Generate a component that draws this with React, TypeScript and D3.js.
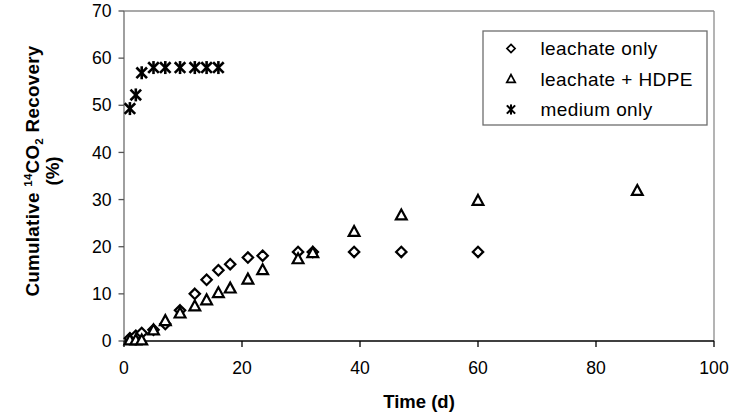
import React from "react";
import * as d3 from "d3";

// Sampling days and cumulative recovery (%) per treatment
const leachateDays = [1, 2, 3, 5, 7, 9.5, 12, 14, 16, 18, 21, 23.5, 29.5, 32, 39, 47, 60];
const leachateValues = [0.6, 1.1, 1.7, 2.4, 3.6, 6.5, 10.0, 13.0, 15.0, 16.3, 17.7, 18.1, 18.9, 18.9, 18.9, 18.9, 18.9];

const hdpeDays = [1, 2, 3, 5, 7, 9.5, 12, 14, 16, 18, 21, 23.5, 29.5, 32, 39, 47, 60, 87];
const hdpeValues = [0.2, 0.2, 0.2, 2.3, 4.3, 5.9, 7.4, 8.7, 10.2, 11.2, 13.1, 15.1, 17.4, 18.7, 23.2, 26.7, 29.8, 31.9];

const mediumDays = [1, 2, 3, 5, 7, 9.5, 12, 14, 16];
const mediumValues = [49.3, 52.2, 56.9, 58, 58, 58, 58, 58, 58];

const xTicks = [0, 20, 40, 60, 80, 100];
const yTicks = [0, 10, 20, 30, 40, 50, 60, 70];

const seriesNames = ["leachate only", "leachate + HDPE", "medium only"];

const W = 732;
const H = 418;
const margin = { left: 124, right: 18, top: 11, bottom: 77 };
const FONT = "Liberation Sans, Arial, sans-serif";

type Shape = "diamond" | "triangle" | "star";

function Marker({ x, y, shape }: { x: number; y: number; shape: Shape }) {
  if (shape === "diamond") {
    const r = 5.2;
    return (
      <path
        d={`M${x},${y - r}L${x + r},${y}L${x},${y + r}L${x - r},${y}Z`}
        fill="white"
        stroke="black"
        strokeWidth={2.2}
      />
    );
  }
  if (shape === "triangle") {
    const hw = 5.4;
    return (
      <path
        d={`M${x},${y - 5.6}L${x + hw},${y + 4.3}L${x - hw},${y + 4.3}Z`}
        fill="white"
        stroke="black"
        strokeWidth={2.2}
        strokeLinejoin="miter"
      />
    );
  }
  const a = 5.3;
  return (
    <g stroke="black" strokeWidth={2.6}>
      <line x1={x - a} y1={y - a} x2={x + a} y2={y + a} />
      <line x1={x - a} y1={y + a} x2={x + a} y2={y - a} />
      <line x1={x} y1={y - 6.5} x2={x} y2={y + 6.5} />
    </g>
  );
}

export default function App() {
  const x = d3.scaleLinear().domain([0, 100]).range([margin.left, W - margin.right]);
  const y = d3.scaleLinear().domain([0, 70]).range([H - margin.bottom, margin.top]);

  const [x0, x1] = x.range();
  const [y0, y1] = y.range();

  const series: { days: number[]; values: number[]; shape: Shape }[] = [
    { days: leachateDays, values: leachateValues, shape: "diamond" },
    { days: hdpeDays, values: hdpeValues, shape: "triangle" },
    { days: mediumDays, values: mediumValues, shape: "star" },
  ];

  const legend = { x: 483, y: 31, w: 224, h: 94 };
  const legendRows = [48.5, 79, 109.5];
  const legendMarkerX = 511;

  return (
    <svg
      width={W}
      height={H}
      style={{ position: "absolute", left: 0, top: 0, background: "white" }}
      fontFamily={FONT}
    >
      <rect x={0} y={0} width={W} height={H} fill="white" />
      {/* plot area frame */}
      <line x1={x0} y1={y1} x2={x1} y2={y1} stroke="#8c8c8c" strokeWidth={1.3} />
      <line x1={x1} y1={y1} x2={x1} y2={y0} stroke="#8c8c8c" strokeWidth={1.3} />
      <line x1={x0} y1={y1} x2={x0} y2={y0} stroke="#777" strokeWidth={1.4} />

      {/* y axis ticks and labels */}
      {yTicks.map((t) => (
        <g key={`y${t}`}>
          <line x1={x0 - 5.5} x2={x0} y1={y(t)} y2={y(t)} stroke="#555" strokeWidth={1.3} />
          <text x={x0 - 12.5} y={y(t)} dy="0.35em" textAnchor="end" fontSize={17.6} fill="black">
            {t}
          </text>
        </g>
      ))}

      {/* x axis */}
      <line x1={x0} y1={y0} x2={x1} y2={y0} stroke="black" strokeWidth={1.4} />
      {xTicks.map((t) => (
        <g key={`x${t}`}>
          <line x1={x(t)} x2={x(t)} y1={y0} y2={y0 + 6} stroke="black" strokeWidth={1.3} />
          <text x={x(t)} y={y0 + 27} dy="0.35em" textAnchor="middle" fontSize={17.6} fill="black">
            {t}
          </text>
        </g>
      ))}

      {/* axis titles */}
      <text x={(x0 + x1) / 2} y={402} dy="0.35em" textAnchor="middle" fontSize={18.5} fontWeight="bold">
        Time (d)
      </text>
      <g transform={`translate(32, 171) rotate(-90)`}>
        <text x={0} y={0} dy="0.35em" textAnchor="middle" fontSize={18.8} letterSpacing={0.3} fontWeight="bold">
          Cumulative{" "}
          <tspan fontSize={11.5} dy="-7">14</tspan>
          <tspan dy="7">CO</tspan>
          <tspan fontSize={11.5} dy="4">2</tspan>
          <tspan dy="-4"> Recovery</tspan>
        </text>
      </g>
      <g transform={`translate(52, 171) rotate(-90)`}>
        <text x={0} y={0} dy="0.35em" textAnchor="middle" fontSize={18.8} fontWeight="bold">
          (%)
        </text>
      </g>

      {/* data markers */}
      {series.map((s, si) => (
        <g key={`s${si}`}>
          {s.days.map((d, i) => (
            <Marker key={i} x={x(d)} y={y(s.values[i])} shape={s.shape} />
          ))}
        </g>
      ))}

      {/* legend */}
      <rect
        x={legend.x}
        y={legend.y}
        width={legend.w}
        height={legend.h}
        fill="white"
        stroke="#6e6e6e"
        strokeWidth={1.3}
      />
      {seriesNames.map((name, i) => (
        <g key={name}>
          <g
            transform={`translate(${legendMarkerX}, ${legendRows[i]}) scale(0.78) translate(${-legendMarkerX}, ${-legendRows[i]})`}
          >
            <Marker x={legendMarkerX} y={legendRows[i]} shape={series[i].shape} />
          </g>
          <text x={540.5} y={legendRows[i]} dy="0.35em" fontSize={19} letterSpacing={0.4} fill="black">
            {name}
          </text>
        </g>
      ))}
    </svg>
  );
}
